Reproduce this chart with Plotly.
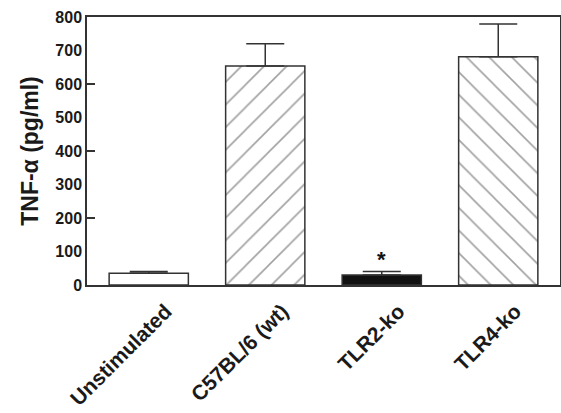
import plotly.graph_objects as go

categories = ["Unstimulated", "C57BL/6 (wt)", "TLR2-ko", "TLR4-ko"]
values = [35, 654, 30, 681]
errors = [5, 66, 10, 98]
y_ticks = [0, 100, 200, 300, 400, 500, 600, 700, 800]
sig_marks = ["", "", "*", ""]

fills = ["white", "white", "#111111", "white"]
patterns = ["", "/", "", "\\"]

fig = go.Figure()
fig.add_trace(go.Bar(
    x=categories, y=values,
    width=0.68,
    marker=dict(
        color=fills,
        line=dict(color="#333333", width=1.5),
        pattern=dict(shape=patterns, fgcolor="#111111", bgcolor="white",
                     size=16, solidity=0.1, fillmode="overlay"),
    ),
    error_y=dict(type="data", symmetric=False, array=errors,
                 arrayminus=[0] * len(errors),
                 color="#333333", thickness=1.5, width=19),
    showlegend=False,
))

for c, v, e, s in zip(categories, values, errors, sig_marks):
    if s:
        fig.add_annotation(x=c, y=v + e, text=s, showarrow=False,
                           yanchor="bottom", yshift=-2,
                           font=dict(family="Liberation Sans", size=22, weight="bold", color="#111111"))

fig.update_layout(
    width=561, height=413,
    margin=dict(l=87, r=1, t=17, b=128),
    paper_bgcolor="white", plot_bgcolor="white",
    font=dict(family="Liberation Sans", color="#1a1a1a"),
    xaxis=dict(
        range=[-0.53, 3.53], automargin=False,
        showline=True, mirror=True, linecolor="#333333", linewidth=1.5,
        ticks="", tickangle=-45, ticklabelshift=17, ticklabelstandoff=4,
        tickfont=dict(family="Liberation Sans", size=21, weight="bold", color="#1a1a1a"),
    ),
    yaxis=dict(
        range=[0, 800], tickvals=y_ticks, automargin=False,
        showline=True, mirror=True, linecolor="#333333", linewidth=1.5,
        ticks="", showgrid=False, zeroline=False,
        tickfont=dict(family="Liberation Sans", size=16, weight="bold", color="#1a1a1a"),
        title=dict(text="TNF-α (pg/ml)", standoff=10,
                   font=dict(family="Liberation Sans", size=23, weight="bold", color="#1a1a1a")),
    ),
    yaxis2=dict(
        range=[0, 800], overlaying="y", side="left", dtick=200, automargin=False,
        ticks="inside", ticklen=8, tickwidth=1.5, tickcolor="#333333",
        showticklabels=False, showgrid=False, zeroline=False, showline=False,
    ),
)
fig.add_trace(go.Scatter(x=[None], y=[None], yaxis="y2", showlegend=False, hoverinfo="skip"))

fig.write_html("out.html", config={"displayModeBar": False},
               post_script="document.body.style.margin='0';")
